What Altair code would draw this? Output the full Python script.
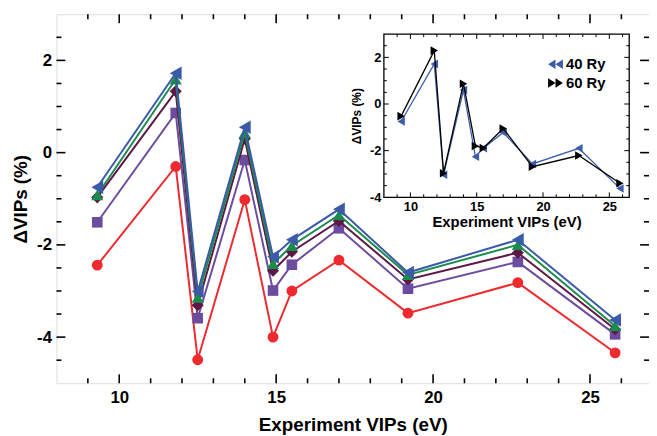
import altair as alt
import pandas as pd

alt.data_transformers.consolidate_datasets = False

# ---------------- data ----------------
x_vips = [9.3, 11.8, 12.5, 14.0, 14.9, 15.5, 17.0, 19.2, 22.7, 25.8]
red_vals = [-2.44, -0.30, -4.49, -1.02, -4.00, -3.00, -2.33, -3.48, -2.82, -4.34]
purple_vals = [-1.51, 0.86, -3.59, -0.16, -2.99, -2.43, -1.64, -2.95, -2.37, -3.94]
maroon_vals = [-0.97, 1.33, -3.31, 0.30, -2.56, -2.15, -1.48, -2.75, -2.17, -3.83]
green_vals = [-0.92, 1.59, -3.14, 0.43, -2.41, -2.02, -1.35, -2.65, -2.00, -3.76]
blue_vals = [-0.75, 1.72, -3.01, 0.55, -2.26, -1.89, -1.23, -2.60, -1.89, -3.63]

ry40_vals = [-0.75, 1.72, -3.03, 0.60, -2.26, -1.90, -1.22, -2.57, -1.90, -3.62]
ry60_vals = [-0.52, 2.29, -2.97, 0.87, -1.80, -1.89, -1.05, -2.69, -2.21, -3.40]
inset_names = ["40 Ry", "60 Ry"]

main_xticks = [float(v) for v in range(9, 27)]
main_xmajor = [10.0, 15.0, 20.0, 25.0]
main_yticks = [v / 2 for v in range(-9, 6)]
main_ymajor = [-4.0, -2.0, 0.0, 2.0]
ins_xticks = [float(v) for v in range(9, 27)]
ins_xmajor = [10.0, 15.0, 20.0, 25.0]
ins_yticks = [v / 2 for v in range(-7, 6)]
ins_ymajor = [-4.0, -2.0, 0.0, 2.0]

# ---------------- layout ----------------
W, H = 599, 373
xdom = [8, 26.88]
ydom = [-5, 3]
ixdom = [8, 26.5]
iydom = [-4, 3]
IX0, IX1 = 331, 579      # inset plot horizontal range (pixels in main plot)
IY0, IY1 = 20, 185       # inset plot vertical range (top, bottom)
FONT = "Liberation Sans"

# ---------------- one table for everything ----------------
rows = []
for key, vals in (("red", red_vals), ("purple", purple_vals), ("maroon", maroon_vals),
                  ("green", green_vals), ("blue", blue_vals),
                  (inset_names[0], ry40_vals), (inset_names[1], ry60_vals)):
    for xv, yv in zip(x_vips, vals):
        rows.append({"key": key, "x": xv, "y": yv, "series": key})


def add_ticks(prefix, xt, xmaj, yt, ymaj, xd_, yd_):
    for v in xt:
        m = "maj" if v in xmaj else "min"
        rows.append({"key": f"{prefix}_b_{m}", "x": v, "y": float(yd_[0])})
        rows.append({"key": f"{prefix}_t_{m}", "x": v, "y": float(yd_[1])})
    for v in yt:
        m = "maj" if v in ymaj else "min"
        rows.append({"key": f"{prefix}_l_{m}", "x": float(xd_[0]), "y": v})
        rows.append({"key": f"{prefix}_r_{m}", "x": float(xd_[1]), "y": v})


add_ticks("m", main_xticks, main_xmajor, main_yticks, main_ymajor, xdom, ydom)
add_ticks("i", ins_xticks, ins_xmajor, ins_yticks, ins_ymajor, ixdom, iydom)
rows.append({"key": "frame", "x": float(ixdom[0]), "x2": float(ixdom[1]),
             "y": float(iydom[0]), "y2": float(iydom[1])})
df = pd.DataFrame(rows)


def sel(key):
    return alt.Chart(df).transform_filter(f"datum.key == '{key}'")


lab_expr = "'' + datum.value"
MXS = alt.Scale(domain=xdom, range=[0, W], nice=False, zero=False)
MYS = alt.Scale(domain=ydom, range=[H, 0], nice=False, zero=False)
IXS = alt.Scale(domain=ixdom, range=[IX0, IX1], nice=False, zero=False)
IYS = alt.Scale(domain=iydom, range=[IY1, IY0], nice=False, zero=False)

MX_ax = alt.X("x:Q", scale=MXS,
              axis=alt.Axis(values=main_xmajor, ticks=False, domain=False, grid=False,
                            labelFont=FONT, labelFontWeight="bold", labelFontSize=17,
                            labelPadding=6, labelExpr=lab_expr, title="Experiment VIPs (eV)",
                            titleFont=FONT, titleFontWeight="bold", titleFontSize=19,
                            titlePadding=11, orient="bottom"))
MY_ax = alt.Y("y:Q", scale=MYS,
              axis=alt.Axis(values=main_ymajor, ticks=False, domain=False, grid=False,
                            labelFont=FONT, labelFontWeight="bold", labelFontSize=17,
                            labelPadding=5, labelExpr=lab_expr, title="ΔVIPs (%)",
                            titleFont=FONT, titleFontWeight="bold", titleFontSize=19,
                            titlePadding=6, orient="left"))
IX_ax = alt.X("x:Q", scale=IXS,
              axis=alt.Axis(values=ins_xmajor, ticks=False, domain=False, grid=False,
                            labelFont=FONT, labelFontWeight="bold", labelFontSize=13,
                            labelPadding=3, labelExpr=lab_expr, title="Experiment VIPs (eV)",
                            titleFont=FONT, titleFontWeight="bold", titleFontSize=15,
                            titlePadding=2, orient="bottom", offset=IY1 - H))
IY_ax = alt.Y("y:Q", scale=IYS,
              axis=alt.Axis(values=ins_ymajor, ticks=False, domain=False, grid=False,
                            labelFont=FONT, labelFontWeight="bold", labelFontSize=13,
                            labelPadding=3, labelExpr=lab_expr, title="ΔVIPs (%)",
                            titleFont=FONT, titleFontWeight="bold", titleFontSize=12,
                            titlePadding=6, orient="left", offset=-IX0))
MX = alt.X("x:Q", scale=MXS, axis=None)
MY = alt.Y("y:Q", scale=MYS, axis=None)
IX = alt.X("x:Q", scale=IXS, axis=None)
IY = alt.Y("y:Q", scale=IYS, axis=None)

# inward tick glyphs (path from the anchor point toward the inside)
GLYPH = {"b": "M0,0L0,-1", "t": "M0,0L0,1", "l": "M0,0L1,0", "r": "M0,0L-1,0"}


def tick_layers(prefix, X, Y, Lmaj, Lmin, sw):
    out = []
    for side, shp in GLYPH.items():
        for m, L in (("maj", Lmaj), ("min", Lmin)):
            out.append(sel(f"{prefix}_{side}_{m}").mark_point(
                shape=shp, size=4 * L * L, filled=False, color="black",
                strokeWidth=sw, opacity=1).encode(x=X, y=Y))
    return out


# ---------------- main chart ----------------
styles = [
    ("red", "#EE2A2E", "circle", 120),
    ("purple", "#6C4C9E", "square", 115),
    ("maroon", "#5E1846", "diamond", 150),
    ("green", "#1B8C4B", "triangle-up", 150),
    ("blue", "#3B5BA9", "triangle-left", 190),
]
layers = []
for i, (name, col, shp, sz) in enumerate(styles):
    xe, ye = (MX_ax, MY_ax) if i == 0 else (MX, MY)
    layers.append(sel(name).mark_line(color=col, strokeWidth=2).encode(x=xe, y=ye))
    layers.append(sel(name).mark_point(filled=True, shape=shp, size=sz, color=col,
                                       opacity=1).encode(x=MX, y=MY))
layers += tick_layers("m", MX, MY, 9, 5, 1.6)

# ---------------- inset ----------------
layers.append(sel("frame").mark_rect(fill="white", stroke="black", strokeWidth=1.3).encode(
    x=IX_ax, x2="x2:Q", y=IY_ax, y2="y2:Q"))
layers += tick_layers("i", IX, IY, 5, 3, 1)
ins_styles = [(inset_names[0], "#3D5DAA", "triangle-left"),
              (inset_names[1], "#000000", "triangle-right")]
for name, col, shp in ins_styles:
    layers.append(sel(name).mark_line(color=col, strokeWidth=1.3).encode(x=IX, y=IY))
    layers.append(sel(name).mark_point(filled=True, shape=shp, size=75, color=col,
                                       opacity=1).encode(x=IX, y=IY))

pathL = "M-1,0L0,-0.65L0,0.65Z M0,0L1,-0.65L1,0.65Z"
pathR = "M1,0L0,-0.65L0,0.65Z M0,0L-1,-0.65L-1,0.65Z"
leg = alt.Legend(title=None, orient="none", legendX=497, legendY=43,
                 labelFont=FONT, labelFontWeight="bold", labelFontSize=15,
                 labelOffset=3, symbolSize=225, symbolStrokeWidth=0, rowPadding=3,
                 padding=0)
layers.append(alt.Chart(df).transform_filter("false").mark_point(filled=True, opacity=1).encode(
    x=IX, y=IY,
    color=alt.Color("series:N", scale=alt.Scale(domain=inset_names, range=["#3D5DAA", "#000000"]),
                    legend=leg),
    shape=alt.Shape("series:N", scale=alt.Scale(domain=inset_names, range=[pathL, pathR]),
                    legend=leg),
))

chart = alt.layer(*layers).resolve_scale(x="independent", y="independent").properties(
    width=W, height=H,
    autosize=alt.AutoSizeParams(type="none"),
    padding={"left": 49, "top": 4, "right": 0, "bottom": 51},
).configure_view(stroke="black", strokeWidth=2).configure(background="white")

chart.save("out.html", embed_options={"renderer": "svg", "actions": False})
